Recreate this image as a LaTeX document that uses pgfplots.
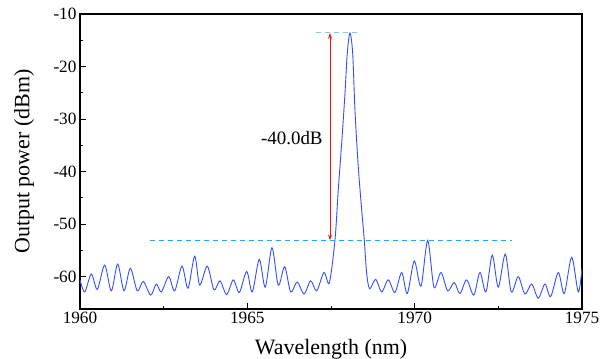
\documentclass[border=0pt]{standalone}
\usepackage{pgfplots}
\pgfplotsset{compat=1.18}
\usetikzlibrary{calc,arrows.meta}
\usepackage{fontspec}
\setmainfont{Liberation Serif}
\definecolor{spec}{RGB}{50,80,255}
\definecolor{dashc}{RGB}{30,170,255}
\definecolor{arr}{RGB}{255,20,20}
\pgfplotstableread{
x y
1960.000 -60.6
1960.140 -62.9
1960.338 -59.5
1960.517 -62.4
1960.738 -57.8
1960.935 -62.7
1961.126 -57.6
1961.315 -62.7
1961.503 -58.4
1961.712 -62.7
1961.891 -60.9
1962.112 -63.5
1962.280 -61.4
1962.429 -62.9
1962.650 -60.0
1962.829 -62.7
1963.048 -58.0
1963.227 -62.2
1963.427 -56.1
1963.576 -61.6
1963.803 -58.0
1964.004 -62.5
1964.183 -60.8
1964.383 -63.4
1964.580 -60.6
1964.760 -63.0
1964.981 -59.0
1965.148 -62.9
1965.357 -56.7
1965.536 -62.0
1965.736 -54.5
1965.925 -61.6
1966.116 -58.1
1966.295 -62.9
1966.492 -61.0
1966.693 -63.3
1966.893 -60.8
1967.072 -62.7
1967.290 -59.2
1967.449 -61.2
1967.619 -53.0
1967.717 -43.5
1967.819 -34.6
1967.918 -25.1
1967.986 -17.5
1968.067 -13.6
1968.148 -17.5
1968.216 -28.3
1968.315 -39.1
1968.417 -47.3
1968.494 -53.0
1968.566 -59.4
1968.655 -62.3
1968.835 -60.5
1969.014 -62.9
1969.211 -60.6
1969.411 -63.0
1969.612 -59.2
1969.779 -63.2
1969.988 -57.0
1970.188 -61.8
1970.389 -53.1
1970.577 -62.0
1970.786 -59.2
1970.986 -62.7
1971.183 -61.1
1971.353 -63.2
1971.554 -60.6
1971.766 -63.5
1971.951 -59.2
1972.130 -62.9
1972.318 -55.9
1972.498 -62.0
1972.707 -55.7
1972.886 -62.9
1973.095 -60.0
1973.295 -63.3
1973.496 -61.4
1973.693 -64.1
1973.893 -61.4
1974.063 -63.8
1974.291 -59.2
1974.470 -63.2
1974.691 -56.3
1974.888 -62.9
1975.000 -58.4
}\spectrum
\begin{document}
\begin{tikzpicture}
\begin{axis}[
  name=ax,
  scale only axis,
  width=502bp, height=295bp,
  xmin=1960, xmax=1975, ymin=-66.15, ymax=-10,
  xtick={1960,1965,1970,1975},
  ytick={-60,-50,-40,-30,-20,-10},
  minor tick num=1,
  tick pos=left,
  tick align=inside,
  major tick length=6bp,
  minor tick length=3.5bp,
  axis line style={line width=1.3bp},
  every tick/.style={line width=1bp, black},
  /pgf/number format/assume math mode=true,
  /pgf/number format/1000 sep={},
  ticklabel style={font=\rmfamily\fontsize{17.3}{20}\selectfont},
  every axis x label/.style={at={(axis description cs:0.5,0)}, yshift=-40bp, anchor=center},
  every axis y label/.style={at={(axis description cs:0,0.5)}, xshift=-56bp, rotate=90, anchor=center},
  label style={font=\rmfamily\fontsize{22}{26}\selectfont},
  xlabel={Wavelength (nm)},
  ylabel={Output power (dBm)},
  clip=true,
]
\addplot[spec, line width=0.9bp, smooth, tension=0.5] table[x=x,y=y] {\spectrum};
\draw[dashc, line width=0.9bp, dash pattern=on 5bp off 4bp] (axis cs:1962.1,-53.1) -- (axis cs:1972.9,-53.1);
\draw[dashc!60, line width=0.9bp, dash pattern=on 5bp off 4bp] (axis cs:1967.05,-13.6) -- (axis cs:1968.3,-13.6);
\draw[arr, line width=0.8bp, {Stealth[length=6bp,width=4bp]}-{Stealth[length=6bp,width=4bp]}] (axis cs:1967.47,-53.1) -- (axis cs:1967.47,-13.6);
\node[font=\rmfamily\fontsize{19}{22}\selectfont, anchor=center] at (axis cs:1966.33,-33.6) {-40.0dB};
\end{axis}
\pgfresetboundingbox
\path ($(ax.south west)+(-80bp,-50bp)$) rectangle ($(ax.north east)+(25bp,14bp)$);
\end{tikzpicture}
\end{document}
